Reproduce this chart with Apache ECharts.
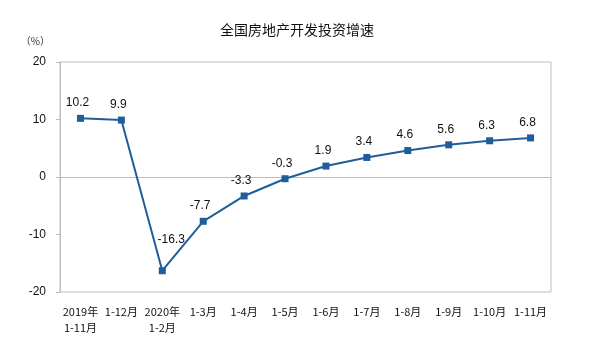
<!DOCTYPE html>
<html><head><meta charset="utf-8">
<script src="https://cdn.jsdelivr.net/npm/echarts@6/dist/echarts.min.js"></script>
<style>html,body{margin:0;padding:0;background:#fff}#c{width:594px;height:356px}</style>
</head><body><div id="c"></div>
<script>
const title = '全国房地产开发投资增速';
const categories = ['2019年\n1-11月','1-12月','2020年\n1-2月','1-3月','1-4月','1-5月','1-6月','1-7月','1-8月','1-9月','1-10月','1-11月'];
const values = [10.2, 9.9, -16.3, -7.7, -3.3, -0.3, 1.9, 3.4, 4.6, 5.6, 6.3, 6.8];
const yTicks = [-20, -10, 0, 10, 20];

const seriesData = values.map((v, i) => (v === Math.min(...values))
  ? {value: v, label: {offset: [9, -16]}}
  : {value: v});

const chart = echarts.init(document.getElementById('c'), null, {renderer:'canvas'});
chart.setOption({
  backgroundColor:'#fff',
  animation:false,
  title:{text:title,left:'center',top:18,textStyle:{fontFamily:'Noto Sans CJK SC',fontSize:14,fontWeight:'normal',color:'#111'}},
  grid:{left:60,right:43,top:62,bottom:64,show:true,borderColor:'#bdbdbd',borderWidth:1},
  xAxis:{type:'category',data:categories,boundaryGap:true,
    axisLine:{lineStyle:{color:'#bdbdbd'}},
    axisTick:{inside:true,length:4,lineStyle:{color:'#bdbdbd'}},
    axisLabel:{color:'#111',fontFamily:'Noto Sans CJK SC',fontSize:11,lineHeight:16,margin:12,interval:0}},
  yAxis:{type:'value',min:yTicks[0],max:yTicks[yTicks.length-1],interval:10,
    name:'（%）',nameLocation:'end',nameGap:16,nameTextStyle:{color:'#333',fontFamily:'Noto Sans CJK SC',fontSize:10,align:'right',padding:[0,10,0,0]},
    axisLine:{show:true,lineStyle:{color:'#bdbdbd'}},
    axisTick:{show:true,length:4,lineStyle:{color:'#bdbdbd'}},
    splitLine:{show:false},
    axisLabel:{color:'#111',fontFamily:'Liberation Sans',fontSize:12,margin:14}},
  series:[{type:'line',data:seriesData,symbol:'rect',symbolSize:7,
    lineStyle:{color:'#1f5e9b',width:2},itemStyle:{color:'#1f5e9b'},
    label:{show:true,position:'top',distance:6,offset:[-3,0],color:'#111',fontFamily:'Liberation Sans',fontSize:12}}]
});
</script></body></html>
